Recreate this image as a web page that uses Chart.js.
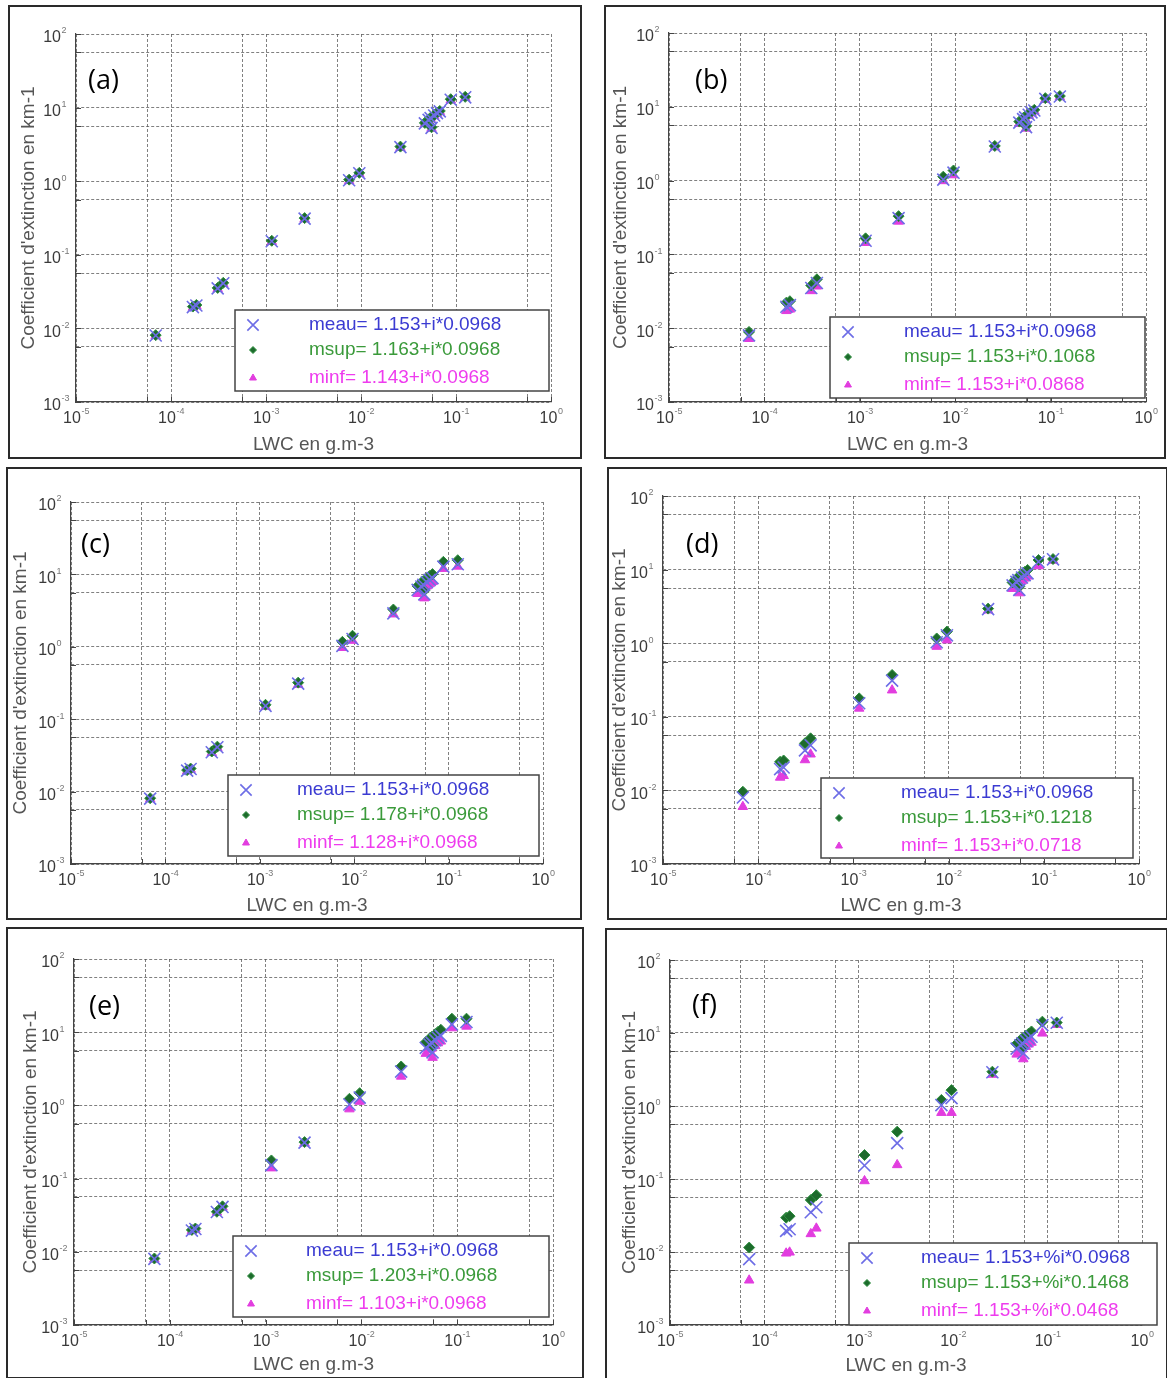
<!DOCTYPE html>
<html>
<head>
<meta charset="utf-8">
<script src="https://cdn.jsdelivr.net/npm/chart.js@4.4.0/dist/chart.umd.min.js"></script>
<style>
  body { margin: 0; background: #fff; }
  #page { position: relative; width: 1167px; height: 1378px; overflow: hidden; }
  .panel { position: absolute; }
  .panel canvas { position: absolute; left: 0; top: 0; }
  .frame { position: absolute; left: 0; top: 0; right: 0; bottom: 0; border: 2px solid #2a2a2a; box-sizing: border-box; pointer-events: none; }
</style>
</head>
<body>
<div id="page"></div>
<script>
// LWC (g.m-3), same points in every case
const lwc = [6.9e-5, 1.7e-4, 1.85e-4, 3.1e-4, 3.55e-4, 1.15e-3, 2.55e-3, 7.5e-3, 9.6e-3, 0.026,
             0.047, 0.0515, 0.054, 0.0553, 0.059, 0.063, 0.0675, 0.088, 0.125];

// extinction coefficient (km-1) for meau, same in every case
const meau = [0.0080, 0.0195, 0.0205, 0.035, 0.041, 0.153, 0.31, 1.03, 1.28, 2.9,
              6.1, 6.8, 7.2, 5.3, 7.8, 8.4, 8.9, 12.8, 13.8];

const msupA = [0.0081, 0.0198, 0.0208, 0.0355, 0.0416, 0.155, 0.315, 1.05, 1.30, 2.95, 6.2, 6.9, 7.3, 5.4, 7.9, 8.5, 9.0, 13.0, 14.0];
const minfA = [0.0079, 0.0192, 0.0202, 0.0345, 0.0404, 0.151, 0.305, 1.01, 1.26, 2.85, 6.0, 6.7, 7.1, 5.2, 7.7, 8.3, 8.8, 12.6, 13.6];

const msupB = [0.0089, 0.0222, 0.0232, 0.038, 0.046, 0.165, 0.33, 1.13, 1.37, 2.95, 6.3, 7.0, 7.4, 5.5, 8.0, 8.6, 9.1, 13.1, 14.0];
const minfB = [0.0072, 0.0172, 0.018, 0.032, 0.037, 0.144, 0.28, 0.99, 1.19, 2.85, 5.9, 6.6, 7.0, 5.1, 7.6, 8.2, 8.7, 12.5, 13.6];

const msupC = [0.0081, 0.0198, 0.0208, 0.0358, 0.0418, 0.158, 0.32, 1.17, 1.42, 3.27, 6.9, 7.7, 8.1, 6.0, 8.8, 9.5, 10.1, 14.9, 15.7];
const minfC = [0.0079, 0.0192, 0.0202, 0.0344, 0.0402, 0.149, 0.30, 0.97, 1.22, 2.82, 5.4, 6.0, 6.3, 4.7, 6.9, 7.4, 7.9, 12.0, 12.9];

const msupD = [0.0096, 0.0245, 0.0255, 0.0436, 0.051, 0.178, 0.37, 1.16, 1.44, 2.95, 6.7, 7.5, 7.9, 5.9, 8.6, 9.3, 9.9, 13.5, 13.9];
const minfD = [0.0060, 0.0150, 0.0158, 0.0259, 0.031, 0.130, 0.23, 0.90, 1.10, 2.8, 5.5, 6.1, 6.5, 4.8, 7.0, 7.6, 8.1, 11.2, 13.3];

const msupE = [0.0081, 0.0199, 0.0208, 0.0352, 0.0418, 0.177, 0.315, 1.23, 1.47, 3.4, 7.3, 8.2, 8.6, 6.4, 9.4, 10.1, 10.8, 15.3, 15.3];
const minfE = [0.0079, 0.0194, 0.0203, 0.0346, 0.0405, 0.139, 0.305, 0.89, 1.13, 2.49, 5.1, 5.7, 6.0, 4.5, 6.5, 7.1, 7.5, 11.4, 12.0];

const msupF = [0.0115, 0.0295, 0.031, 0.0515, 0.060, 0.213, 0.445, 1.21, 1.65, 2.95, 7.1, 8.0, 8.4, 6.2, 9.2, 9.8, 10.5, 14.3, 13.9];
const minfF = [0.0041, 0.0096, 0.0099, 0.0177, 0.0211, 0.094, 0.156, 0.81, 0.81, 2.7, 5.1, 5.6, 6.0, 4.4, 6.5, 7.0, 7.4, 9.9, 13.0];

// decades shown on the axes (tick labels 10^k)
const xDecades = [-5, -4, -3, -2, -1, 0];
const yDecades = [-3, -2, -1, 0, 1, 2];

const panelLabels = ['(a)', '(b)', '(c)', '(d)', '(e)', '(f)'];
const legendTexts = [
  ['meau= 1.153+i*0.0968', 'msup= 1.163+i*0.0968', 'minf= 1.143+i*0.0968'],
  ['meau= 1.153+i*0.0968', 'msup= 1.153+i*0.1068', 'minf= 1.153+i*0.0868'],
  ['meau= 1.153+i*0.0968', 'msup= 1.178+i*0.0968', 'minf= 1.128+i*0.0968'],
  ['meau= 1.153+i*0.0968', 'msup= 1.153+i*0.1218', 'minf= 1.153+i*0.0718'],
  ['meau= 1.153+i*0.0968', 'msup= 1.203+i*0.0968', 'minf= 1.103+i*0.0968'],
  ['meau= 1.153+%i*0.0968', 'msup= 1.153+%i*0.1468', 'minf= 1.153+%i*0.0468']
];
const msupSeries = [msupA, msupB, msupC, msupD, msupE, msupF];
const minfSeries = [minfA, minfB, minfC, minfD, minfE, minfF];

// layout of each panel (page px), plot area / legend / label inside the panel
const layouts = [
  { box: [8, 5, 574, 454],     plot: [68, 29, 543, 397], legend: [227, 305, 314, 81], textX: 74, label: [80, 76], yPad: 9 },
  { box: [604, 5, 562, 454],   plot: [65, 28, 542, 397], legend: [226, 312, 315, 81], textX: 74, label: [91, 76], yPad: 5 },
  { box: [6, 467, 576, 453],   plot: [65, 35, 537, 397], legend: [222, 308, 311, 81], textX: 69, label: [75, 78], yPad: 3 },
  { box: [607, 467, 561, 453], plot: [56, 29, 532, 397], legend: [214, 311, 312, 80], textX: 80, label: [79, 78], yPad: 1 },
  { box: [6, 927, 578, 452],   plot: [68, 32, 547, 398], legend: [227, 309, 316, 81], textX: 73, label: [83, 80], yPad: 13 },
  { box: [605, 928, 563, 452], plot: [65, 32, 537, 397], legend: [244, 315, 308, 82], textX: 72, label: [87, 78], yPad: 13 }
];

const FONT = '"Liberation Sans", Arial, sans-serif';
const textColors = ['#3b3bd2', '#3a9a3a', '#ee3cee'];
const legendRadius = [8, 3.5, 4];
const rowOffsets = [15, 40, 68];

// grid at every decade and a quarter decade below it
function gridValues(decs) {
  const out = [];
  decs.forEach((k, i) => {
    if (i > 0) out.push(Math.pow(10, k - 0.25));
    out.push(Math.pow(10, k));
  });
  return out.map(v => ({ value: v }));
}

function isDecade(v) {
  const l = Math.log10(v);
  return Math.abs(l - Math.round(l)) < 1e-6;
}

function drawPow(ctx, x, y, v, align) {
  const exp = String(Math.round(Math.log10(v)));
  ctx.font = '16px ' + FONT;
  const w10 = ctx.measureText('10').width;
  ctx.font = '9px ' + FONT;
  const we = ctx.measureText(exp).width;
  const x0 = align === 'center' ? x - (w10 + we) / 2 : x - w10;
  ctx.textAlign = 'left';
  ctx.textBaseline = 'middle';
  ctx.font = '16px ' + FONT;
  ctx.fillStyle = '#3a3a3a';
  ctx.fillText('10', x0, y);
  ctx.font = '9px ' + FONT;
  ctx.fillStyle = '#777';
  ctx.fillText(exp, x0 + w10 + 0.5, y - 7);
}

const panelDeco = {
  id: 'panelDeco',
  afterDraw(chart, args, opts) {
    const ctx = chart.ctx, area = chart.chartArea;
    const xs = chart.scales.x, ys = chart.scales.y;
    ctx.save();

    // inward ticks on bottom and left axes
    ctx.strokeStyle = '#444';
    ctx.lineWidth = 1;
    ctx.beginPath();
    xs.ticks.forEach(t => {
      const px = Math.round(xs.getPixelForValue(t.value)) + 0.5;
      ctx.moveTo(px, area.bottom);
      ctx.lineTo(px, area.bottom - 5);
    });
    ys.ticks.forEach(t => {
      const py = Math.round(ys.getPixelForValue(t.value)) + 0.5;
      ctx.moveTo(area.left, py);
      ctx.lineTo(area.left + 5, py);
    });
    ctx.stroke();

    // 10^k labels
    xs.ticks.filter(t => isDecade(t.value)).forEach(t => {
      drawPow(ctx, xs.getPixelForValue(t.value), area.bottom + 17, t.value, 'center');
    });
    ys.ticks.filter(t => isDecade(t.value)).forEach(t => {
      drawPow(ctx, area.left - 15, ys.getPixelForValue(t.value) + 4, t.value, 'right');
    });

    // panel label
    ctx.font = '27px "Open Sans", sans-serif';
    ctx.fillStyle = '#000';
    ctx.textAlign = 'left';
    ctx.textBaseline = 'middle';
    ctx.fillText(opts.label, opts.labelPos[0], opts.labelPos[1]);

    // legend box
    const [lx, ly, lw, lh] = opts.box;
    ctx.fillStyle = '#fff';
    ctx.fillRect(lx, ly, lw, lh);
    ctx.strokeStyle = '#444';
    ctx.lineWidth = 1.5;
    ctx.strokeRect(lx, ly, lw, lh);
    chart.data.datasets.forEach((ds, i) => {
      const y = ly + rowOffsets[i];
      ctx.save();
      ctx.strokeStyle = ds.borderColor;
      ctx.fillStyle = ds.backgroundColor;
      ctx.lineWidth = ds.borderWidth;
      Chart.helpers.drawPoint(ctx, { pointStyle: ds.pointStyle, radius: legendRadius[i], rotation: 0, borderWidth: ds.borderWidth }, lx + 18, y);
      ctx.restore();
      ctx.font = '19px ' + FONT;
      ctx.fillStyle = textColors[i];
      ctx.textAlign = 'left';
      ctx.textBaseline = 'middle';
      ctx.fillText(opts.texts[i], lx + opts.textX, y);
    });
    ctx.restore();
  }
};

function points(ys) {
  return lwc.map((x, i) => ({ x: x, y: ys[i] }));
}

function makePanel(i) {
  const L = layouts[i];
  const [bx, by, W, H] = L.box;
  const [pl, pt, pr, pb] = L.plot;

  const div = document.createElement('div');
  div.className = 'panel';
  div.style.left = bx + 'px';
  div.style.top = by + 'px';
  div.style.width = W + 'px';
  div.style.height = H + 'px';
  const canvas = document.createElement('canvas');
  canvas.width = W;
  canvas.height = H;
  canvas.style.width = W + 'px';
  canvas.style.height = H + 'px';
  div.appendChild(canvas);
  const frame = document.createElement('div');
  frame.className = 'frame';
  div.appendChild(frame);
  document.getElementById('page').appendChild(div);

  const gridOpts = { color: 'rgba(85,85,85,0.75)', lineWidth: 1, drawTicks: false };
  const borderOpts = { display: true, color: '#444', width: 1.2, dash: [3, 2] };

  new Chart(canvas.getContext('2d'), {
    type: 'scatter',
    data: {
      datasets: [
        { label: 'meau', data: points(meau), pointStyle: 'crossRot', radius: 8.5,
          borderColor: '#6d6de6', backgroundColor: 'rgba(0,0,0,0)', borderWidth: 1.6 },
        { label: 'msup', data: points(msupSeries[i]), pointStyle: 'rectRot', radius: 5.5,
          borderColor: '#2f8f40', backgroundColor: '#1d6b2c', borderWidth: 1 },
        { label: 'minf', data: points(minfSeries[i]), pointStyle: 'triangle', radius: 5.5,
          borderColor: '#e23ddf', backgroundColor: '#e23ddf', borderWidth: 1 }
      ]
    },
    options: {
      responsive: false,
      animation: false,
      devicePixelRatio: 1,
      layout: { padding: { left: 0, top: pt, right: W - pr, bottom: 0 } },
      plugins: {
        legend: { display: false },
        tooltip: { enabled: false },
        panelDeco: { label: panelLabels[i], labelPos: L.label, box: L.legend, textX: L.textX, texts: legendTexts[i] }
      },
      scales: {
        x: {
          type: 'logarithmic',
          min: 1e-5, max: 1,
          afterBuildTicks: s => { s.ticks = gridValues(xDecades); },
          afterFit: s => { s.height = H - pb; },
          ticks: { display: false },
          grid: gridOpts,
          border: borderOpts,
          title: { display: true, text: 'LWC en g.m-3', color: '#555',
                   font: { family: FONT, size: 19 }, padding: { top: 0, bottom: 3 } }
        },
        y: {
          type: 'logarithmic',
          min: 1e-3, max: 100,
          afterBuildTicks: s => { s.ticks = gridValues(yDecades); },
          afterFit: s => { s.width = pl; },
          ticks: { display: false },
          grid: gridOpts,
          border: borderOpts,
          title: { display: true, text: "Coefficient d'extinction en km-1", color: '#555',
                   font: { family: FONT, size: 19 }, padding: { top: L.yPad, bottom: 0 } }
        }
      }
    },
    plugins: [panelDeco]
  });
}

for (let i = 0; i < layouts.length; i++) makePanel(i);
</script>
</body>
</html>
